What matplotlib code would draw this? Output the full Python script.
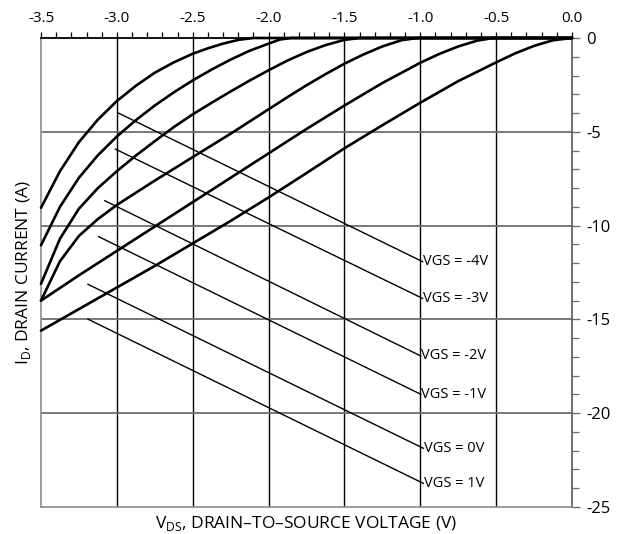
import matplotlib
matplotlib.use("Agg")
import matplotlib.pyplot as plt
from matplotlib.ticker import MultipleLocator, FormatStrFormatter

plt.rcParams['font.family'] = ['Open Sans', 'DejaVu Sans']
plt.rcParams['axes.unicode_minus'] = False
plt.rcParams['mathtext.fontset'] = 'custom'
plt.rcParams['mathtext.rm'] = 'Open Sans'

# Drain current curves: (V_DS, I_D) per gate voltage
vds_1 = [0.0, -2.1, -2.2, -2.3, -2.4, -2.5, -2.625, -2.75, -2.875, -3.0, -3.125, -3.25, -3.375, -3.5]
id_1 = [0.0, 0.0, -0.1, -0.3, -0.55, -0.84, -1.3, -1.85, -2.55, -3.36, -4.35, -5.55, -7.1, -9.05]

vds_2 = [0.0, -1.85, -1.925, -2.0, -2.125, -2.25, -2.375, -2.5, -2.625, -2.75, -2.875, -3.0,
         -3.125, -3.25, -3.375, -3.5]
id_2 = [0.0, 0.0, -0.08, -0.3, -0.68, -1.15, -1.68, -2.26, -2.9, -3.6, -4.38, -5.25,
        -6.25, -7.45, -9.0, -11.05]

vds_3 = [0.0, -1.4, -1.5, -1.625, -1.75, -1.875, -2.0, -2.125, -2.25, -2.375, -2.5, -2.625,
         -2.75, -2.875, -3.0, -3.125, -3.25, -3.375, -3.5]
id_3 = [0.0, 0.0, -0.1, -0.38, -0.75, -1.2, -1.72, -2.27, -2.85, -3.45, -4.07, -4.75,
        -5.5, -6.27, -7.1, -8.0, -9.1, -10.7, -13.1]

vds_4 = [0.0, -1.02, -1.125, -1.25, -1.375, -1.5, -1.625, -1.75, -1.875, -2.0, -2.25, -2.5,
         -2.75, -3.0, -3.125, -3.25, -3.375, -3.5]
id_4 = [0.0, 0.0, -0.12, -0.45, -0.88, -1.37, -1.93, -2.52, -3.15, -3.8, -5.1, -6.35,
        -7.6, -8.9, -9.65, -10.55, -11.9, -14.0]

vds_5 = [0.0, -0.52, -0.625, -0.75, -0.875, -1.0, -1.25, -1.5, -1.75, -2.0, -2.25, -2.5,
         -2.75, -3.0, -3.25, -3.5]
id_5 = [0.0, 0.0, -0.14, -0.45, -0.85, -1.32, -2.4, -3.6, -4.85, -6.15, -7.45, -8.75,
        -10.05, -11.35, -12.65, -14.0]

vds_6 = [0.0, -0.125, -0.25, -0.375, -0.5, -0.75, -1.0, -1.25, -1.5, -1.75, -2.0, -2.25,
         -2.5, -2.75, -3.0, -3.25, -3.5]
id_6 = [0.0, -0.12, -0.42, -0.82, -1.3, -2.3, -3.45, -4.65, -5.88, -7.2, -8.5, -9.75,
        -10.95, -12.15, -13.3, -14.45, -15.6]

curves = [(vds_1, id_1), (vds_2, id_2), (vds_3, id_3),
          (vds_4, id_4), (vds_5, id_5), (vds_6, id_6)]

# Leader lines to the gate-voltage labels: start (V, I) and end (V, I)
vgs_labels = ["VGS = -4V", "VGS = -3V", "VGS = -2V", "VGS = -1V", "VGS = 0V", "VGS = 1V"]
leader_start = [(-2.99, -4.0), (-3.01, -5.92), (-3.08, -8.67), (-3.12, -10.59),
                (-3.19, -13.13), (-3.19, -14.99)]
leader_end = [(-0.985, -11.92), (-0.985, -13.88), (-0.997, -16.95), (-0.997, -18.99),
              (-0.98, -21.87), (-0.98, -23.74)]

x_ticks = [-3.5, -3.0, -2.5, -2.0, -1.5, -1.0, -0.5, 0.0]
y_ticks = [0, -5, -10, -15, -20, -25]

fig = plt.figure(figsize=(6.24, 5.34), dpi=100)
ax = fig.add_axes([41 / 624, 1 - 507 / 534, 531 / 624, 469 / 534])
ax.set_xlim(-3.5, 0.0)
ax.set_ylim(-25, 0)

# Grid: black verticals, grey horizontals
for xv in x_ticks[1:-1]:
    ax.axvline(xv, color='black', lw=1.0, zorder=1)
for yv in y_ticks[1:-1]:
    ax.axhline(yv, color='#6e6e6e', lw=1.3, zorder=1)

for vx, iy in curves:
    ax.plot(vx, iy, color='black', lw=1.9, solid_capstyle='round',
            solid_joinstyle='round', clip_on=False, zorder=3)

for lab, (x0, y0), (x1, y1) in zip(vgs_labels, leader_start, leader_end):
    ax.plot([x0, x1], [y0, y1], color='black', lw=1.0, zorder=2)
    ax.text(x1 + 0.005, y1, lab, fontsize=10.5, ha='left', va='center', zorder=4)

ax.xaxis.tick_top()
ax.yaxis.tick_right()
ax.xaxis.set_label_position('bottom')
ax.yaxis.set_label_position('left')
ax.set_xticks(x_ticks)
ax.set_yticks(y_ticks)
ax.xaxis.set_major_formatter(FormatStrFormatter('%.1f'))
ax.yaxis.set_major_formatter(FormatStrFormatter('%d'))
ax.xaxis.set_minor_locator(MultipleLocator(0.1))
ax.yaxis.set_minor_locator(MultipleLocator(1))
ax.tick_params(axis='x', which='both', direction='out', length=4, width=0.9,
               labelsize=11, pad=5, color='black')
ax.tick_params(axis='y', which='major', direction='out', length=6, width=1.0,
               labelsize=12, pad=4, color='#6e6e6e')
ax.tick_params(axis='y', which='minor', direction='out', length=5, width=0.9,
               color='#6e6e6e')

for side in ['left', 'bottom']:
    ax.spines[side].set_color('#8a8a8a')
    ax.spines[side].set_linewidth(1.2)
ax.spines['top'].set_color('black')
ax.spines['top'].set_linewidth(1.3)
ax.spines['right'].set_color('#555555')
ax.spines['right'].set_linewidth(1.2)

ax.set_xlabel('V$_{\\mathregular{DS}}$, DRAIN\u2013TO\u2013SOURCE VOLTAGE (V)',
              fontsize=12.5, labelpad=5)
ax.set_ylabel('I$_{\\mathregular{D}}$, DRAIN CURRENT (A)', fontsize=12.5, labelpad=6)

fig.savefig('out.png', dpi=100)
